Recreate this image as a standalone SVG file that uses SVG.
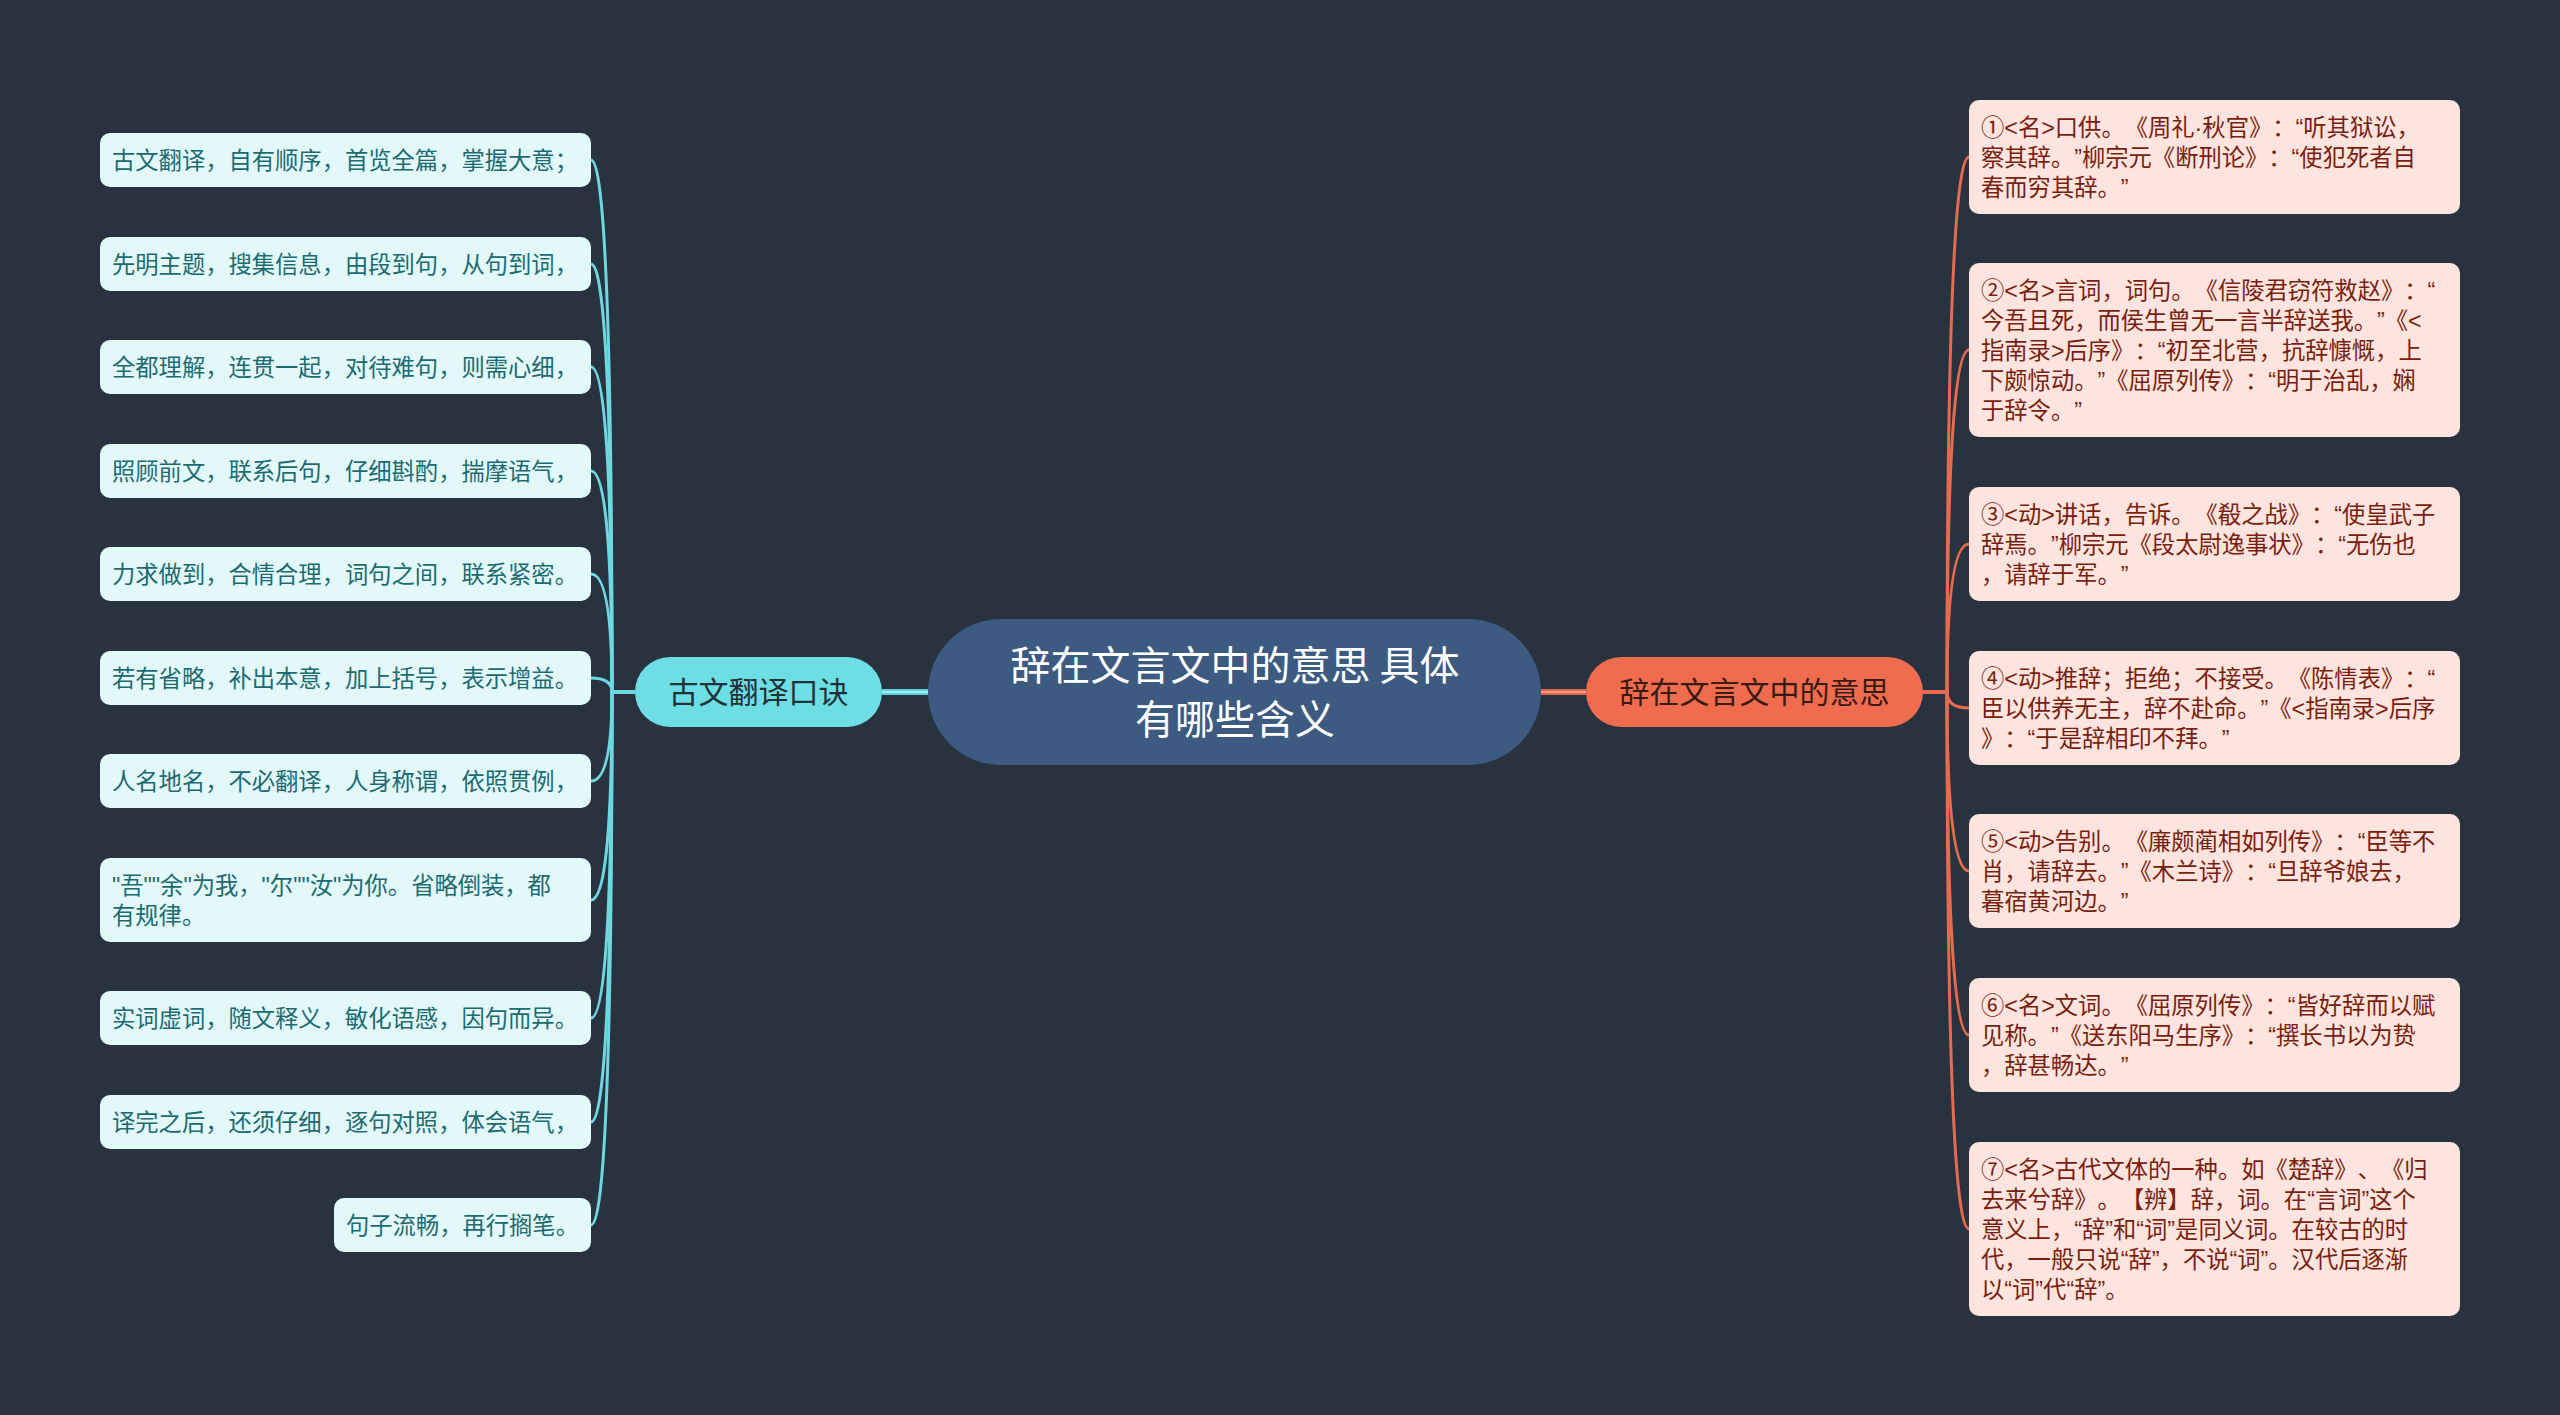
<svg xmlns="http://www.w3.org/2000/svg" width="2560" height="1415" viewBox="0 0 2560 1415">
<style>
text{text-spacing-trim:space-all}
.bg{fill:#29323f}
.lnode{fill:#e3f8f9}
.rnode{fill:#fde4de}
.lt{font-family:"Liberation Sans","Noto Sans CJK SC",sans-serif;font-size:23.3px;fill:#1c6b71}
.rt{font-family:"Liberation Sans","Noto Sans CJK SC",sans-serif;font-size:23.3px;fill:#7a1e0f}
.ct{font-family:"Noto Sans CJK SC","Noto Sans",sans-serif;font-size:40px;fill:#ffffff;text-anchor:middle}
.bt{font-family:"Noto Sans CJK SC","Noto Sans",sans-serif;font-size:30px;text-anchor:middle}
.lc{fill:none;stroke:#6dd8e0;stroke-width:3}
.rc{fill:none;stroke:#e86b4f;stroke-width:3}
</style>
<rect class="bg" x="0" y="0" width="2560" height="1415"/>
<g id="connectors">
<path d="M882 692H928" stroke="#62d0da" stroke-width="6" fill="none"/>
<path d="M882 692H928" stroke="#a6eff3" stroke-width="2" fill="none"/>
<path d="M1541 692H1586" stroke="#e4664a" stroke-width="6" fill="none"/>
<path d="M1541 692H1586" stroke="#f39a84" stroke-width="2" fill="none"/>
<path class="lc" d="M635 692H612Q612 160 591 160"/>
<path class="lc" d="M635 692H612Q612 264 591 264"/>
<path class="lc" d="M635 692H612Q612 367 591 367"/>
<path class="lc" d="M635 692H612Q612 471 591 471"/>
<path class="lc" d="M635 692H612Q612 574 591 574"/>
<path class="lc" d="M635 692H612Q612 678 591 678"/>
<path class="lc" d="M635 692H612Q612 781 591 781"/>
<path class="lc" d="M635 692H612Q612 900 591 900"/>
<path class="lc" d="M635 692H612Q612 1018 591 1018"/>
<path class="lc" d="M635 692H612Q612 1122 591 1122"/>
<path class="lc" d="M635 692H612Q612 1225 591 1225"/>
<path class="rc" d="M1923 692H1947Q1947 157 1969 157"/>
<path class="rc" d="M1923 692H1947Q1947 350 1969 350"/>
<path class="rc" d="M1923 692H1947Q1947 544 1969 544"/>
<path class="rc" d="M1923 692H1947Q1947 708 1969 708"/>
<path class="rc" d="M1923 692H1947Q1947 871 1969 871"/>
<path class="rc" d="M1923 692H1947Q1947 1035 1969 1035"/>
<path class="rc" d="M1923 692H1947Q1947 1229 1969 1229"/>
</g>
<g id="root">
<rect x="928" y="619" width="613" height="146" rx="73" fill="#3d5a80"/>
<text class="ct" x="1235" y="680">辞在文言文中的意思 具体</text>
<text class="ct" x="1235" y="734">有哪些含义</text>
</g>
<g id="branch-left">
<rect x="635" y="657" width="247" height="70" rx="35" fill="#6cdee4"/>
<text class="bt" x="758.5" y="703" fill="#1e3238">古文翻译口诀</text>
</g>
<g id="branch-right">
<rect x="1586" y="657" width="337" height="70" rx="35" fill="#ef6c4f"/>
<text class="bt" x="1754.5" y="703" fill="#3a1a12">辞在文言文中的意思</text>
</g>
<g id="l1"><rect class="lnode" x="100" y="133" width="491" height="54" rx="10"/><text class="lt" x="112" y="169">古文翻译，自有顺序，首览全篇，掌握大意；</text></g>
<g id="l2"><rect class="lnode" x="100" y="237" width="491" height="54" rx="10"/><text class="lt" x="112" y="273">先明主题，搜集信息，由段到句，从句到词，</text></g>
<g id="l3"><rect class="lnode" x="100" y="340" width="491" height="54" rx="10"/><text class="lt" x="112" y="376">全都理解，连贯一起，对待难句，则需心细，</text></g>
<g id="l4"><rect class="lnode" x="100" y="444" width="491" height="54" rx="10"/><text class="lt" x="112" y="480">照顾前文，联系后句，仔细斟酌，揣摩语气，</text></g>
<g id="l5"><rect class="lnode" x="100" y="547" width="491" height="54" rx="10"/><text class="lt" x="112" y="583">力求做到，合情合理，词句之间，联系紧密。</text></g>
<g id="l6"><rect class="lnode" x="100" y="651" width="491" height="54" rx="10"/><text class="lt" x="112" y="687">若有省略，补出本意，加上括号，表示增益。</text></g>
<g id="l7"><rect class="lnode" x="100" y="754" width="491" height="54" rx="10"/><text class="lt" x="112" y="790">人名地名，不必翻译，人身称谓，依照贯例，</text></g>
<g id="l8"><rect class="lnode" x="100" y="858" width="491" height="84" rx="10"/><text class="lt" x="112" y="894">"吾""余"为我，"尔""汝"为你。省略倒装，都</text><text class="lt" x="112" y="924">有规律。</text></g>
<g id="l9"><rect class="lnode" x="100" y="991" width="491" height="54" rx="10"/><text class="lt" x="112" y="1027">实词虚词，随文释义，敏化语感，因句而异。</text></g>
<g id="l10"><rect class="lnode" x="100" y="1095" width="491" height="54" rx="10"/><text class="lt" x="112" y="1131">译完之后，还须仔细，逐句对照，体会语气，</text></g>
<g id="l11"><rect class="lnode" x="334" y="1198" width="257" height="54" rx="10"/><text class="lt" x="346" y="1234">句子流畅，再行搁笔。</text></g>
<g id="r1"><rect class="rnode" x="1969" y="100" width="491" height="114" rx="10"/>
<text class="rt" x="1981" y="136">①&lt;名&gt;口供。《周礼·秋官》：“听其狱讼，</text>
<text class="rt" x="1981" y="166">察其辞。”柳宗元《断刑论》：“使犯死者自</text>
<text class="rt" x="1981" y="196">春而穷其辞。”</text></g>
<g id="r2"><rect class="rnode" x="1969" y="263" width="491" height="174" rx="10"/>
<text class="rt" x="1981" y="299">②&lt;名&gt;言词，词句。《信陵君窃符救赵》：“</text>
<text class="rt" x="1981" y="329">今吾且死，而侯生曾无一言半辞送我。”《&lt;</text>
<text class="rt" x="1981" y="359">指南录&gt;后序》：“初至北营，抗辞慷慨，上</text>
<text class="rt" x="1981" y="389">下颇惊动。”《屈原列传》：“明于治乱，娴</text>
<text class="rt" x="1981" y="419">于辞令。”</text></g>
<g id="r3"><rect class="rnode" x="1969" y="487" width="491" height="114" rx="10"/>
<text class="rt" x="1981" y="523">③&lt;动&gt;讲话，告诉。《殽之战》：“使皇武子</text>
<text class="rt" x="1981" y="553">辞焉。”柳宗元《段太尉逸事状》：“无伤也</text>
<text class="rt" x="1981" y="583">，请辞于军。”</text></g>
<g id="r4"><rect class="rnode" x="1969" y="651" width="491" height="114" rx="10"/>
<text class="rt" x="1981" y="687">④&lt;动&gt;推辞；拒绝；不接受。《陈情表》：“</text>
<text class="rt" x="1981" y="717">臣以供养无主，辞不赴命。”《&lt;指南录&gt;后序</text>
<text class="rt" x="1981" y="747">》：“于是辞相印不拜。”</text></g>
<g id="r5"><rect class="rnode" x="1969" y="814" width="491" height="114" rx="10"/>
<text class="rt" x="1981" y="850">⑤&lt;动&gt;告别。《廉颇蔺相如列传》：“臣等不</text>
<text class="rt" x="1981" y="880">肖，请辞去。”《木兰诗》：“旦辞爷娘去，</text>
<text class="rt" x="1981" y="910">暮宿黄河边。”</text></g>
<g id="r6"><rect class="rnode" x="1969" y="978" width="491" height="114" rx="10"/>
<text class="rt" x="1981" y="1014">⑥&lt;名&gt;文词。《屈原列传》：“皆好辞而以赋</text>
<text class="rt" x="1981" y="1044">见称。”《送东阳马生序》：“撰长书以为贽</text>
<text class="rt" x="1981" y="1074">，辞甚畅达。”</text></g>
<g id="r7"><rect class="rnode" x="1969" y="1142" width="491" height="174" rx="10"/>
<text class="rt" x="1981" y="1178">⑦&lt;名&gt;古代文体的一种。如《楚辞》、《归</text>
<text class="rt" x="1981" y="1208">去来兮辞》。【辨】辞，词。在“言词”这个</text>
<text class="rt" x="1981" y="1238">意义上，“辞”和“词”是同义词。在较古的时</text>
<text class="rt" x="1981" y="1268">代，一般只说“辞”，不说“词”。汉代后逐渐</text>
<text class="rt" x="1981" y="1298">以“词”代“辞”。</text></g>
</svg>
